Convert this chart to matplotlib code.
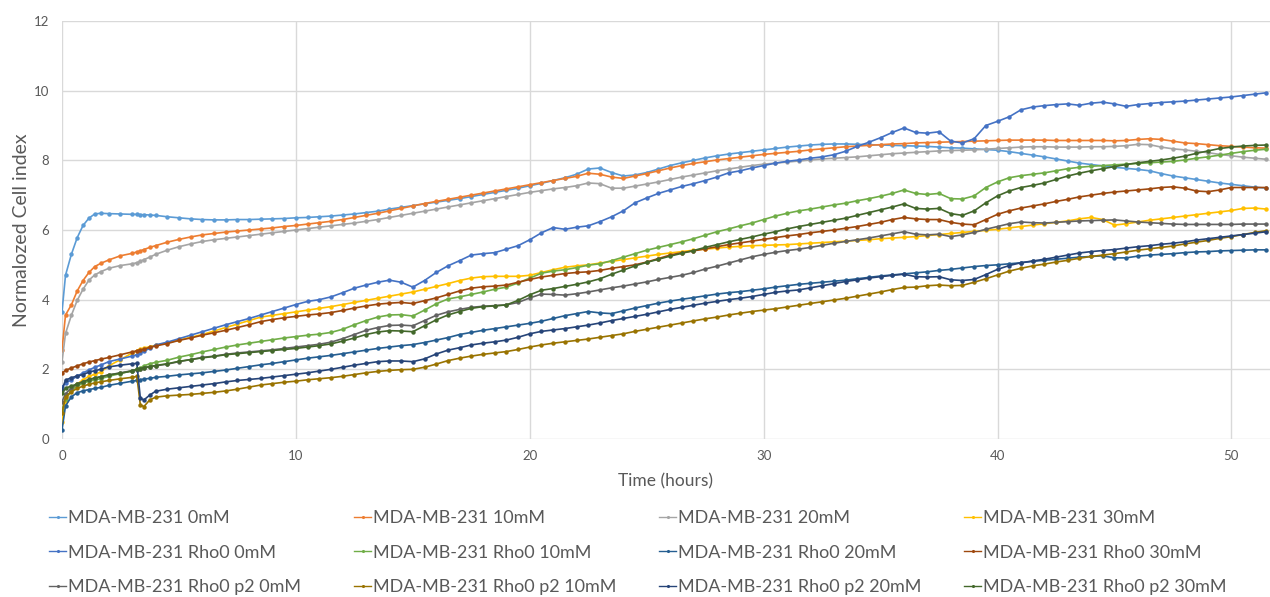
import matplotlib
matplotlib.use("Agg")
import matplotlib.pyplot as plt

plt.rcParams['font.family'] = ['Lato', 'DejaVu Sans']

TIME = [0, 0.15, 0.4, 0.65, 0.9, 1.15, 1.4, 1.65, 2.0, 2.5, 3.0, 3.2, 3.35, 3.5, 3.75,
        4, 4.5, 5, 5.5, 6, 6.5, 7, 7.5, 8, 8.5,
        9, 9.5, 10, 10.5, 11, 11.5, 12, 12.5, 13, 13.5,
        14, 14.5, 15, 15.5, 16, 16.5, 17, 17.5, 18, 18.5,
        19, 19.5, 20, 20.5, 21, 21.5, 22, 22.5, 23, 23.5,
        24, 24.5, 25, 25.5, 26, 26.5, 27, 27.5, 28, 28.5,
        29, 29.5, 30, 30.5, 31, 31.5, 32, 32.5, 33, 33.5,
        34, 34.5, 35, 35.5, 36, 36.5, 37, 37.5, 38, 38.5,
        39, 39.5, 40, 40.5, 41, 41.5, 42, 42.5, 43, 43.5,
        44, 44.5, 45, 45.5, 46, 46.5, 47, 47.5, 48, 48.5,
        49, 49.5, 50, 50.5, 51, 51.5]

mda_0 = [3.65, 4.7, 5.3, 5.78, 6.13, 6.34, 6.46, 6.48, 6.47, 6.46, 6.45, 6.45, 6.44, 6.44, 6.43,
         6.42, 6.38, 6.35, 6.32, 6.3, 6.29, 6.29, 6.3, 6.3, 6.31,
         6.32, 6.33, 6.35, 6.36, 6.38, 6.4, 6.43, 6.46, 6.5, 6.54,
         6.6, 6.65, 6.7, 6.75, 6.8, 6.85, 6.9, 6.96, 7.02, 7.08,
         7.14, 7.2, 7.27, 7.34, 7.42, 7.5, 7.6, 7.75, 7.78, 7.65,
         7.55, 7.58, 7.65, 7.75, 7.85, 7.93, 8.0, 8.07, 8.13, 8.18,
         8.22, 8.26, 8.3, 8.34, 8.38, 8.41, 8.44, 8.46, 8.47, 8.47,
         8.46, 8.45, 8.44, 8.43, 8.42, 8.41, 8.4, 8.38, 8.36, 8.35,
         8.33, 8.31, 8.29, 8.25, 8.2, 8.15, 8.1, 8.04, 7.98, 7.92,
         7.88, 7.84, 7.8, 7.77, 7.74, 7.7, 7.62, 7.55, 7.5, 7.45,
         7.4, 7.35, 7.31, 7.27, 7.23, 7.2]

mda_10 = [2.56, 3.56, 3.85, 4.25, 4.55, 4.78, 4.95, 5.04, 5.14, 5.26, 5.33, 5.37, 5.4, 5.44, 5.5,
          5.55, 5.65, 5.73, 5.8, 5.86, 5.9, 5.94, 5.97, 6.0, 6.03,
          6.06, 6.1, 6.13, 6.17, 6.21, 6.25, 6.3, 6.36, 6.42, 6.48,
          6.55, 6.62, 6.69, 6.76, 6.82, 6.88, 6.94, 7.0, 7.06, 7.12,
          7.18, 7.24, 7.3, 7.36, 7.42, 7.48, 7.54, 7.63, 7.6, 7.52,
          7.48, 7.55, 7.62, 7.7, 7.78, 7.85, 7.91, 7.96, 8.01, 8.05,
          8.09, 8.13, 8.17, 8.2, 8.23, 8.26, 8.3, 8.33, 8.36, 8.39,
          8.41, 8.43, 8.45, 8.47, 8.48, 8.5, 8.51, 8.52, 8.53, 8.54,
          8.55, 8.56, 8.57, 8.58, 8.58, 8.58, 8.58, 8.57, 8.57, 8.57,
          8.57, 8.57, 8.56, 8.57, 8.6, 8.62, 8.6, 8.55, 8.5, 8.48,
          8.45, 8.42, 8.4, 8.38, 8.36, 8.35]

mda_20 = [2.22, 3.03, 3.55, 3.98, 4.3, 4.56, 4.71, 4.8, 4.9, 4.98, 5.03, 5.06, 5.1, 5.15, 5.22,
          5.3, 5.42, 5.52, 5.6, 5.67, 5.72, 5.76, 5.8, 5.84, 5.88,
          5.92, 5.96, 6.0, 6.04, 6.08, 6.12, 6.16, 6.2, 6.25, 6.3,
          6.36, 6.42, 6.48, 6.54, 6.6, 6.66, 6.72, 6.78, 6.84, 6.9,
          6.96, 7.02, 7.08, 7.13, 7.18, 7.22, 7.27, 7.35, 7.33, 7.2,
          7.2, 7.26, 7.32, 7.38, 7.45, 7.52, 7.58, 7.64, 7.7, 7.75,
          7.8, 7.85, 7.89, 7.92, 7.95, 7.98, 8.01, 8.04, 8.06, 8.08,
          8.1, 8.13, 8.16, 8.19, 8.21, 8.23, 8.25, 8.27, 8.28, 8.29,
          8.3, 8.32, 8.34, 8.36, 8.38, 8.39, 8.39, 8.38, 8.38, 8.38,
          8.39, 8.39, 8.4, 8.42, 8.46, 8.45, 8.38, 8.33, 8.3, 8.26,
          8.22, 8.17, 8.13, 8.09, 8.06, 8.03]

mda_30 = [0.5, 1.1, 1.4, 1.58, 1.7, 1.8, 1.86, 1.92, 2.1, 2.28, 2.47, 2.54, 2.58, 2.61, 2.65,
          2.69, 2.76, 2.84, 2.92, 3.0, 3.1, 3.2, 3.3, 3.4, 3.5,
          3.55, 3.6, 3.65, 3.7, 3.75, 3.8, 3.86, 3.92, 3.98, 4.04,
          4.1, 4.16, 4.22, 4.3, 4.38, 4.46, 4.55, 4.62, 4.66, 4.67,
          4.67, 4.67, 4.7, 4.78, 4.86, 4.93, 4.97, 5.0, 5.05, 5.1,
          5.15, 5.2, 5.25, 5.3, 5.34, 5.38, 5.42, 5.45, 5.48, 5.51,
          5.53, 5.55, 5.56, 5.57, 5.58, 5.6, 5.62, 5.64, 5.66, 5.68,
          5.7, 5.72, 5.75, 5.77, 5.79, 5.81, 5.84, 5.87, 5.9, 5.93,
          5.96, 5.99, 6.02, 6.06, 6.1, 6.14, 6.18, 6.22, 6.26, 6.32,
          6.36, 6.3, 6.14, 6.18, 6.23, 6.28, 6.32, 6.36, 6.4, 6.44,
          6.48, 6.52, 6.56, 6.62, 6.63, 6.6]

rho0_0 = [1.5, 1.6, 1.7, 1.8, 1.9, 1.98, 2.06, 2.12, 2.22, 2.3, 2.38, 2.42, 2.46, 2.52, 2.6,
          2.7, 2.78, 2.88, 2.98, 3.08, 3.18, 3.28, 3.37, 3.46, 3.56,
          3.66, 3.76, 3.86, 3.95, 4.0, 4.08, 4.2, 4.33, 4.42, 4.5,
          4.56, 4.5, 4.36, 4.55, 4.78, 4.97, 5.12, 5.28, 5.32, 5.35,
          5.45, 5.55, 5.72, 5.92, 6.07, 6.02, 6.08, 6.12, 6.24, 6.38,
          6.55, 6.78, 6.92, 7.05, 7.15, 7.25, 7.33, 7.42, 7.52, 7.64,
          7.7, 7.78, 7.85, 7.92, 7.97, 8.01, 8.06, 8.1, 8.16, 8.26,
          8.4, 8.52, 8.65, 8.8, 8.93, 8.8, 8.78, 8.82, 8.55, 8.5,
          8.62, 9.0, 9.12, 9.25, 9.45, 9.53, 9.57, 9.6, 9.62, 9.58,
          9.64, 9.67, 9.62, 9.55, 9.6, 9.63, 9.66, 9.68, 9.7, 9.73,
          9.76, 9.79, 9.82, 9.86, 9.9, 9.94]

rho0_10 = [0.83, 1.15, 1.4, 1.52, 1.6, 1.66, 1.7, 1.73, 1.8, 1.88, 1.96, 2.0, 2.04, 2.1, 2.16,
           2.2, 2.26, 2.35, 2.42, 2.5, 2.57, 2.64, 2.7, 2.75, 2.8,
           2.85, 2.9, 2.94, 2.98, 3.01, 3.06, 3.15, 3.28, 3.4, 3.5,
           3.56, 3.57, 3.53, 3.7, 3.88, 4.02, 4.08, 4.15, 4.22, 4.3,
           4.36, 4.48, 4.62, 4.76, 4.82, 4.86, 4.92, 4.99, 5.03, 5.12,
           5.22, 5.32, 5.42, 5.5, 5.58, 5.66, 5.75, 5.85, 5.95, 6.03,
           6.12, 6.2, 6.3, 6.4, 6.48, 6.55, 6.6, 6.66, 6.72, 6.77,
           6.84, 6.9, 6.97, 7.05, 7.15, 7.05, 7.02, 7.05, 6.9, 6.89,
           6.98, 7.22, 7.38, 7.5, 7.56, 7.6, 7.64, 7.7, 7.76, 7.8,
           7.83, 7.85, 7.87, 7.89, 7.91, 7.93, 7.95, 7.97, 8.01, 8.06,
           8.1, 8.15, 8.2, 8.25, 8.29, 8.32]

rho0_20 = [0.26, 0.95, 1.21, 1.33, 1.38, 1.42, 1.45, 1.48, 1.54, 1.6, 1.66, 1.68, 1.7, 1.72, 1.74,
           1.77, 1.8, 1.84, 1.87, 1.9, 1.94, 1.98, 2.03, 2.08, 2.13,
           2.17, 2.22, 2.27, 2.32, 2.36, 2.4, 2.45, 2.5, 2.55, 2.6,
           2.64, 2.68, 2.71, 2.77, 2.84, 2.91, 3.0, 3.06, 3.12, 3.17,
           3.22, 3.27, 3.32, 3.38, 3.46, 3.54, 3.6, 3.66, 3.62, 3.6,
           3.68, 3.76, 3.83, 3.9, 3.96, 4.01, 4.06, 4.11, 4.16, 4.2,
           4.23, 4.27, 4.31, 4.36, 4.4, 4.44, 4.47, 4.5, 4.53, 4.56,
           4.6, 4.64, 4.68, 4.71, 4.74, 4.77, 4.8, 4.84, 4.87, 4.91,
           4.95, 4.98, 5.0, 5.03, 5.06, 5.1, 5.13, 5.16, 5.19, 5.22,
           5.24, 5.26, 5.2, 5.2, 5.25, 5.28, 5.3, 5.32, 5.35, 5.37,
           5.38, 5.4, 5.41, 5.42, 5.43, 5.43]

rho0_30 = [1.89, 1.97, 2.04, 2.1, 2.16, 2.21, 2.25, 2.29, 2.34, 2.42, 2.5, 2.53, 2.55, 2.58, 2.63,
           2.67, 2.74, 2.83, 2.9, 2.98, 3.05, 3.12, 3.2, 3.28, 3.37,
           3.43, 3.48, 3.52, 3.56, 3.59, 3.63, 3.69, 3.76, 3.82, 3.87,
           3.9, 3.92, 3.89, 3.97, 4.05, 4.15, 4.25, 4.33, 4.37, 4.39,
           4.42, 4.5, 4.58, 4.65, 4.7, 4.75, 4.78, 4.8, 4.84, 4.9,
           4.95, 5.0, 5.08, 5.18, 5.28, 5.35, 5.4, 5.46, 5.52, 5.58,
           5.63, 5.68, 5.73, 5.78, 5.83, 5.87, 5.92, 5.96, 6.0, 6.05,
           6.1, 6.16, 6.22, 6.3, 6.36, 6.32, 6.3, 6.3, 6.22, 6.17,
           6.15, 6.3, 6.45, 6.55, 6.63, 6.69, 6.75, 6.82, 6.88, 6.95,
           7.0, 7.05, 7.09, 7.12, 7.15, 7.18, 7.22, 7.24, 7.2, 7.12,
           7.1, 7.15, 7.22, 7.22, 7.22, 7.22]

p2_0 = [1.07, 1.3, 1.46, 1.58, 1.65, 1.71, 1.75, 1.78, 1.84, 1.9, 1.96, 1.99, 2.01, 2.04, 2.07,
        2.1, 2.15, 2.22, 2.28, 2.34, 2.38, 2.43, 2.47, 2.5, 2.53,
        2.56, 2.6, 2.64, 2.68, 2.72, 2.78, 2.88, 3.0, 3.12, 3.2,
        3.26, 3.27, 3.25, 3.4, 3.55, 3.65, 3.72, 3.78, 3.81, 3.83,
        3.85, 3.92, 4.05, 4.16, 4.15, 4.13, 4.17, 4.22, 4.28, 4.34,
        4.39, 4.45, 4.51, 4.58, 4.64, 4.7, 4.78, 4.88, 4.96, 5.05,
        5.14, 5.23, 5.3, 5.36, 5.41, 5.45, 5.5, 5.56, 5.62, 5.67,
        5.72, 5.77, 5.83, 5.89, 5.95, 5.88, 5.86, 5.88, 5.81, 5.86,
        5.93, 6.02, 6.1, 6.18, 6.23, 6.21, 6.2, 6.22, 6.24, 6.26,
        6.27, 6.28, 6.29, 6.26, 6.23, 6.21, 6.19, 6.17, 6.16, 6.16,
        6.16, 6.16, 6.16, 6.17, 6.17, 6.17]

p2_10 = [0.74, 1.21, 1.36, 1.45, 1.52, 1.57, 1.61, 1.64, 1.68, 1.73, 1.77, 1.8, 0.98, 0.93, 1.12,
         1.2, 1.24, 1.26, 1.28, 1.31, 1.34, 1.38, 1.43, 1.49, 1.55,
         1.59, 1.63, 1.66, 1.7, 1.73, 1.76, 1.8, 1.85, 1.9, 1.94,
         1.97, 1.99, 2.0, 2.06, 2.15, 2.25, 2.32, 2.38, 2.43, 2.47,
         2.51, 2.57, 2.64, 2.7, 2.75, 2.79, 2.83, 2.87, 2.92, 2.97,
         3.02, 3.09, 3.15, 3.21, 3.27, 3.33, 3.39, 3.45, 3.5, 3.56,
         3.61, 3.66, 3.7, 3.74, 3.79, 3.84, 3.89, 3.94, 3.99, 4.04,
         4.1, 4.16, 4.22, 4.29, 4.35, 4.36, 4.4, 4.42, 4.4, 4.41,
         4.5, 4.6, 4.71, 4.82, 4.9, 4.97, 5.02, 5.08, 5.13, 5.19,
         5.24, 5.28, 5.32, 5.37, 5.42, 5.46, 5.5, 5.54, 5.6, 5.65,
         5.7, 5.76, 5.81, 5.87, 5.93, 5.98]

p2_20 = [1.41, 1.69, 1.76, 1.81, 1.85, 1.92, 1.96, 2.0, 2.07, 2.12, 2.16, 2.17, 1.17, 1.12, 1.26,
         1.37, 1.43, 1.47, 1.51, 1.55, 1.59, 1.64, 1.68, 1.71, 1.74,
         1.78, 1.82, 1.86, 1.9, 1.95, 2.0, 2.06, 2.12, 2.17, 2.22,
         2.24, 2.24, 2.22, 2.3, 2.44, 2.55, 2.62, 2.7, 2.75, 2.79,
         2.84, 2.92, 3.02, 3.09, 3.13, 3.17, 3.22, 3.27, 3.33, 3.4,
         3.46, 3.52, 3.58, 3.65, 3.72, 3.78, 3.84, 3.9, 3.95, 4.0,
         4.04, 4.09, 4.15, 4.21, 4.25, 4.28, 4.34, 4.4, 4.46, 4.52,
         4.57, 4.62, 4.66, 4.7, 4.73, 4.66, 4.65, 4.66, 4.57, 4.55,
         4.58, 4.72, 4.87, 4.98, 5.06, 5.11, 5.16, 5.22, 5.28, 5.34,
         5.38, 5.41, 5.44, 5.48, 5.52, 5.55, 5.59, 5.62, 5.66, 5.71,
         5.75, 5.79, 5.83, 5.87, 5.91, 5.95]

p2_30 = [1.31, 1.46, 1.52, 1.58, 1.64, 1.7, 1.75, 1.79, 1.84, 1.89, 1.95, 2.0, 2.02, 2.05, 2.08,
         2.11, 2.16, 2.23, 2.28, 2.33, 2.37, 2.42, 2.45, 2.48, 2.51,
         2.54, 2.57, 2.6, 2.64, 2.68, 2.73, 2.81, 2.9, 3.0, 3.07,
         3.11, 3.1, 3.08, 3.25, 3.42, 3.56, 3.66, 3.75, 3.8, 3.82,
         3.85, 3.98, 4.14, 4.27, 4.32, 4.38, 4.44, 4.51, 4.6, 4.73,
         4.85, 4.97, 5.07, 5.16, 5.25, 5.33, 5.41, 5.5, 5.58, 5.66,
         5.73, 5.8, 5.88, 5.95, 6.03, 6.1, 6.16, 6.22, 6.28, 6.34,
         6.42, 6.5, 6.58, 6.66, 6.75, 6.62, 6.6, 6.62, 6.47, 6.42,
         6.55, 6.78, 6.98, 7.12, 7.22, 7.28, 7.35, 7.45, 7.55, 7.63,
         7.7, 7.76, 7.82, 7.88, 7.93, 7.97, 8.01, 8.06, 8.12, 8.2,
         8.27, 8.34, 8.38, 8.41, 8.43, 8.44]

LABELS = ["MDA-MB-231 0mM", "MDA-MB-231 10mM", "MDA-MB-231 20mM", "MDA-MB-231 30mM",
          "MDA-MB-231 Rho0 0mM", "MDA-MB-231 Rho0 10mM", "MDA-MB-231 Rho0 20mM", "MDA-MB-231 Rho0 30mM",
          "MDA-MB-231 Rho0 p2 0mM", "MDA-MB-231 Rho0 p2 10mM", "MDA-MB-231 Rho0 p2 20mM", "MDA-MB-231 Rho0 p2 30mM"]
SERIES = [mda_0, mda_10, mda_20, mda_30, rho0_0, rho0_10, rho0_20, rho0_30, p2_0, p2_10, p2_20, p2_30]
COLORS = ["#5B9BD5", "#ED7D31", "#A5A5A5", "#FFC000",
          "#4472C4", "#70AD47", "#255E91", "#9E480E",
          "#636363", "#997300", "#264478", "#43682B"]
X_TICKS = [0, 10, 20, 30, 40, 50]
Y_TICKS = [0, 2, 4, 6, 8, 10, 12]

fig = plt.figure(figsize=(12.7, 5.97), dpi=100)
ax = fig.add_axes([62 / 1270, 1 - 439 / 597, 1 - 62 / 1270, (439 - 21) / 597])

handles = []
for vals, lab, col in zip(SERIES, LABELS, COLORS):
    h, = ax.plot(TIME, vals, '-o', color=col, lw=1.2, ms=3.2, mew=0, label=lab, zorder=3)
    handles.append(h)

ax.set_xlim(0, 51.65)
ax.set_ylim(0, 12)
ax.set_xticks(X_TICKS)
ax.set_yticks(Y_TICKS)
ax.grid(True, color='#D9D9D9', lw=1.0, zorder=0)
ax.set_axisbelow(True)
for s in ax.spines.values():
    s.set_visible(False)
ax.tick_params(length=0, labelsize=9.5, colors='#595959', pad=9)
ax.tick_params(axis='x', pad=8)
ax.set_xlabel("Time (hours)", fontsize=12.5, color='#595959', labelpad=8)
ax.set_ylabel("Normalozed Cell index", fontsize=14, color='#595959')
ax.yaxis.set_label_coords((30 - 62) / 1208, 0.5)

# legend: four columns, each holding the 3 series of one concentration
for c in range(4):
    idx = [c, c + 4, c + 8]
    leg = fig.legend([handles[i] for i in idx], [LABELS[i] for i in idx],
                     loc='upper left',
                     bbox_to_anchor=((42 + 305 * c) / 1270, 1 - 503 / 597),
                     frameon=False, fontsize=13, handlelength=0.95, handletextpad=0.1,
                     labelspacing=1.02, borderaxespad=0, markerscale=0.7)
    for h in leg.legend_handles:
        h.set_linewidth(1.0)
    for t in leg.get_texts():
        t.set_color('#595959')

fig.savefig("out.png", dpi=100)
